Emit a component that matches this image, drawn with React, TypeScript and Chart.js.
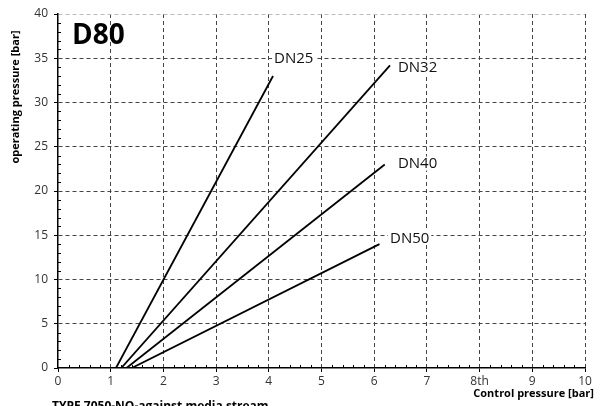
import React, { useEffect, useRef } from "react";
import { Chart, registerables } from "chart.js";

Chart.register(...registerables);

// ---- data ----
const seriesNames = ["DN25", "DN32", "DN40", "DN50"];
const startControl = [1.1, 1.2, 1.3, 1.4];
const startOperating = [0, 0, 0, 0];
const endControl = [4.08, 6.3, 6.2, 6.1];
const endOperating = [33, 34.2, 23, 14];
const labelControl = [4.1, 6.45, 6.45, 6.3];
const labelOperating = [35, 34, 23.1, 14.7];

const xTickValues = [0, 1, 2, 3, 4, 5, 6, 7, 8, 9, 10];
const xTickLabels = ["0", "1", "2", "3", "4", "5", "6", "7", "8th", "9", "10"];
const yTickValues = [0, 5, 10, 15, 20, 25, 30, 35, 40];

const chartTitle = "D80";
const yTitle = "operating pressure [bar]";
const xTitle = "Control pressure [bar]";
const footnote = "TYPE 7050-NO-against media stream";

const FONT = "'Open Sans', 'Noto Sans', sans-serif";

const overlayPlugin = {
  id: "overlay",
  afterDraw(chart: any) {
    const { ctx, chartArea, scales } = chart;
    const xs = scales.x;
    const ys = scales.y;
    ctx.save();
    // minor ticks
    ctx.strokeStyle = "#000";
    ctx.lineWidth = 1;
    ctx.beginPath();
    for (let i = 1; i < 50; i++) {
      if (i % 5 === 0) continue;
      const px = Math.round(xs.getPixelForValue(i * 0.2)) + 0.5;
      ctx.moveTo(px, chartArea.bottom);
      ctx.lineTo(px, chartArea.bottom - 3);
    }
    for (let i = 1; i < 40; i++) {
      if (i % 5 === 0) continue;
      const py = Math.round(ys.getPixelForValue(i)) + 0.5;
      ctx.moveTo(chartArea.left, py);
      ctx.lineTo(chartArea.left + 3, py);
    }
    ctx.stroke();

    // series labels with white background
    ctx.font = `15px ${FONT}`;
    ctx.textBaseline = "middle";
    ctx.textAlign = "left";
    seriesNames.forEach((name, i) => {
      const px = xs.getPixelForValue(labelControl[i]);
      const py = ys.getPixelForValue(labelOperating[i]);
      const w = ctx.measureText(name).width;
      ctx.fillStyle = "#fff";
      ctx.fillRect(px - 2, py - 7, w + 4, 14);
      ctx.fillStyle = "#111";
      ctx.fillText(name, px, py + 0.5);
    });

    // title
    ctx.fillStyle = "#000";
    ctx.font = `bold 28px ${FONT}`;
    ctx.textBaseline = "alphabetic";
    ctx.fillText(chartTitle, 72, 44);

    // x title
    ctx.font = `bold 11px ${FONT}`;
    ctx.textAlign = "right";
    ctx.fillText(xTitle, 594, 397);

    // footnote
    ctx.textAlign = "left";
    ctx.font = `bold 12px ${FONT}`;
    ctx.fillText(footnote, 52, 410);

    // y title
    ctx.save();
    ctx.translate(16, 97);
    ctx.rotate(-Math.PI / 2);
    ctx.font = `bold 11px ${FONT}`;
    ctx.textAlign = "center";
    ctx.textBaseline = "middle";
    ctx.fillText(yTitle, 0, 0);
    ctx.restore();

    ctx.restore();
  },
};

export default function App() {
  const ref = useRef<HTMLCanvasElement | null>(null);
  useEffect(() => {
    document.body.style.margin = "0";
    const canvas = ref.current;
    if (!canvas) return;
    const datasets = seriesNames.map((name, i) => ({
      label: name,
      data: [
        { x: startControl[i], y: startOperating[i] },
        { x: endControl[i], y: endOperating[i] },
      ],
      borderColor: "#000",
      borderWidth: 1.8,
      pointRadius: 0,
      fill: false,
    }));
    const gridColor = (maxVal: number) => (c: any) => {
      const v = c.tick ? c.tick.value : null;
      if (v === 0) return "rgba(0,0,0,0)";
      if (v === maxVal && maxVal === 40) return "#bbb";
      return "#444";
    };
    const chart = new Chart(canvas, {
      type: "line",
      data: { datasets },
      plugins: [overlayPlugin],
      options: {
        animation: false,
        responsive: false,
        maintainAspectRatio: false,
        layout: { padding: { top: 14, right: 18, left: 0, bottom: 0 } },
        plugins: {
          legend: { display: false },
          tooltip: { enabled: false },
          title: { display: false },
        },
        scales: {
          x: {
            type: "linear",
            min: 0,
            max: 10,
            afterBuildTicks: (s: any) => {
              s.ticks = xTickValues.map((v) => ({ value: v }));
            },
            afterFit: (s: any) => {
              s.height = 38;
            },
            ticks: {
              callback: (v: any) => {
                const idx = xTickValues.indexOf(Number(v));
                return idx >= 0 ? xTickLabels[idx] : "";
              },
              font: { family: FONT, size: 12 },
              color: "#333",
              padding: 2,
              maxRotation: 0,
              autoSkip: false,
            },
            grid: {
              color: gridColor(10),
              lineWidth: 1,
              drawTicks: true,
              tickLength: 4,
              tickColor: "#000",
              tickWidth: 1,
            },
            border: { display: true, color: "#000", width: 1.5, dash: [4, 3] },
          },
          y: {
            type: "linear",
            min: 0,
            max: 40,
            afterBuildTicks: (s: any) => {
              s.ticks = yTickValues.map((v) => ({ value: v }));
            },
            afterFit: (s: any) => {
              s.width = 58;
            },
            ticks: {
              font: { family: FONT, size: 12 },
              color: "#333",
              padding: 6,
              autoSkip: false,
            },
            grid: {
              color: gridColor(40),
              lineWidth: 1,
              drawTicks: true,
              tickLength: 4,
              tickColor: "#000",
              tickWidth: 1,
            },
            border: { display: true, color: "#000", width: 1.5, dash: [4, 3] },
          },
        },
      },
    } as any);
    return () => chart.destroy();
  }, []);
  return (
    <div style={{ width: 603, height: 406, background: "#fff" }}>
      <canvas ref={ref} width={603} height={406} style={{ display: "block" }} />
    </div>
  );
}
